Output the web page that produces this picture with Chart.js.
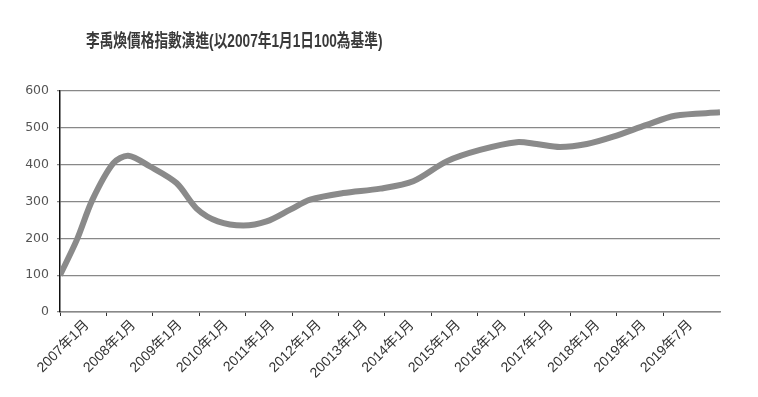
<!DOCTYPE html>
<html lang="zh-Hant">
<head>
    <meta charset="UTF-8">
    <title>李禹煥價格指數演進</title>
    <script src="https://cdn.jsdelivr.net/npm/chart.js"></script>
    <style>
        html, body {
            margin: 0;
            padding: 0;
            background: #fff;
        }

        .wrap {
            position: relative;
            width: 758px;
            height: 397px;
        }

        .chart-title {
            position: absolute;
            left: 86px;
            top: 26px;
            font-family: "Liberation Sans", "Noto Sans CJK TC", sans-serif;
            font-size: 18px;
            font-weight: bold;
            color: #3a3a3a;
            white-space: nowrap;
            transform: scaleX(0.76);
            transform-origin: left center;
            z-index: 2;
        }

        canvas {
            position: absolute;
            left: 0;
            top: 0;
        }
    </style>
</head>
<body>
    <div class="wrap">
        <div class="chart-title">李禹煥價格指數演進(以2007年1月1日100為基準)</div>
        <canvas id="indexChart" width="758" height="397"></canvas>
    </div>

    <script>
        // tick labels on the time axis (one per tick mark)
        const xLabels = ['2007年1月', '2008年1月', '2009年1月', '2010年1月', '2011年1月',
            '2012年1月', '20013年1月', '2014年1月', '2015年1月', '2016年1月',
            '2017年1月', '2018年1月', '2019年1月', '2019年7月'];

        // positions along the axis (in tick units) and index values
        const pointPos = [0, 0.36, 0.7, 1.15, 1.47, 1.94, 2.51, 2.95, 3.4, 3.95, 4.45, 4.96,
            5.39, 6.1, 6.9, 7.61, 8.33, 9.05, 9.84, 10.27, 10.77, 11.35, 11.92, 12.64, 13.25, 14.22];
        const pointValues = [100, 195, 305, 404, 424, 395, 350, 280, 246, 235, 246, 278,
            305, 323, 335, 355, 409, 440, 461, 456, 448, 456, 476, 508, 533, 542];

        const yTicks = [0, 100, 200, 300, 400, 500, 600];

        const axisEnd = 14.22;

        const ctx = document.getElementById('indexChart').getContext('2d');
        new Chart(ctx, {
            type: 'line',
            data: {
                datasets: [{
                    label: '李禹煥價格指數',
                    data: pointPos.map((p, i) => ({ x: p, y: pointValues[i] })),
                    borderColor: '#8a8a8a',
                    borderWidth: 6,
                    pointRadius: 0,
                    tension: 0.3,
                    fill: false
                }]
            },
            options: {
                responsive: false,
                animation: false,
                layout: {
                    padding: { top: 91, right: 38, left: 0, bottom: 0 }
                },
                plugins: {
                    legend: { display: false },
                    tooltip: { enabled: false }
                },
                scales: {
                    x: {
                        type: 'linear',
                        min: 0,
                        max: axisEnd,
                        afterBuildTicks: s => {
                            s.ticks = xLabels.map((_, i) => ({ value: i }));
                        },
                        afterFit: s => { s.height = 85; },
                        grid: {
                            drawOnChartArea: false,
                            color: '#333',
                            tickLength: 4
                        },
                        border: { color: '#888', width: 1.5 },
                        ticks: {
                            autoSkip: false,
                            maxRotation: 45,
                            minRotation: 45,
                            labelOffset: 27,
                            padding: 1,
                            color: '#333',
                            font: { family: '"Liberation Sans", "Noto Sans CJK TC"', size: 14 },
                            callback: (v, i) => xLabels[i]
                        }
                    },
                    y: {
                        min: 0,
                        max: 600,
                        afterBuildTicks: s => {
                            s.ticks = yTicks.map(v => ({ value: v }));
                        },
                        afterFit: s => { s.width = 60; },
                        grid: {
                            color: '#888',
                            lineWidth: 1.2,
                            tickLength: 3
                        },
                        border: { color: '#111', width: 1.5 },
                        ticks: {
                            padding: 8,
                            color: '#555',
                            font: { family: '"DejaVu Sans"', size: 12.5 }
                        }
                    }
                }
            }
        });
    </script>
</body>
</html>
